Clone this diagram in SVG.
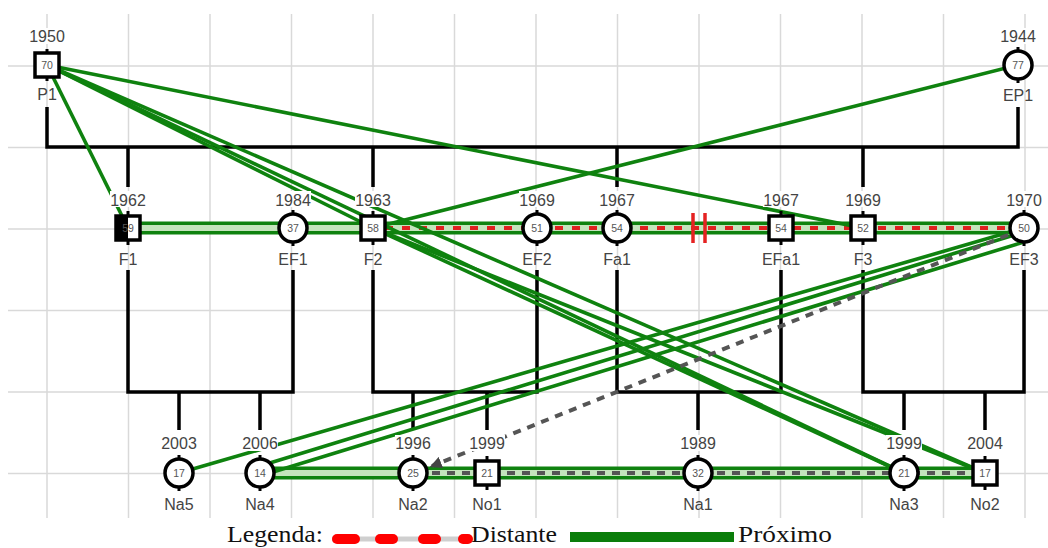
<svg xmlns="http://www.w3.org/2000/svg" width="1048" height="548" viewBox="0 0 1048 548">
  <style>
    .grid line { stroke: #d9d9d9; stroke-width: 1.5; }
    .fam { fill: none; stroke: #000; stroke-width: 3.5; stroke-linejoin: miter; }
    .close { stroke: #0f820f; stroke-width: 3.6; fill: none; }
    .band-o { stroke: #0f820f; stroke-width: 13; }
    .band-i { stroke: #c4e4bc; stroke-width: 6; }
    .far { stroke: #e02020; stroke-width: 4; stroke-dasharray: 8 9; }
    .cut { stroke: #e52222; stroke-width: 3.5; }
    .grey { stroke: #555; stroke-width: 4; stroke-dasharray: 8 7; fill: none; }
    .node rect.m, .node circle { fill: #fff; stroke: #000; stroke-width: 3.5; }
    .tick { stroke: #000; stroke-width: 3; }
    .bg { fill: #fff; }
    .yr, .nm { font-family: "Liberation Sans", Arial, sans-serif; font-size: 16px; fill: #444; text-anchor: middle; }
    .age { font-family: "Liberation Sans", Arial, sans-serif; font-size: 10.5px; fill: #555; text-anchor: middle; }
    .leg { font-family: "Liberation Serif", "Times New Roman", serif; font-size: 24px; fill: #111; }
  </style>
  <defs>
    <marker id="arrowGrey" viewBox="0 0 10 10" refX="8" refY="5" markerWidth="3" markerHeight="3" orient="auto">
      <path d="M0 0 L10 5 L0 10 Z" fill="#444"/>
    </marker>
  </defs>

  <rect width="1048" height="548" fill="#fff"/>

  <!-- background grid -->
  <g class="grid">
    <line x1="47" y1="14" x2="47" y2="518"/>
    <line x1="128.5" y1="14" x2="128.5" y2="518"/>
    <line x1="210" y1="14" x2="210" y2="518"/>
    <line x1="291.5" y1="14" x2="291.5" y2="518"/>
    <line x1="373" y1="14" x2="373" y2="518"/>
    <line x1="454.5" y1="14" x2="454.5" y2="518"/>
    <line x1="536" y1="14" x2="536" y2="518"/>
    <line x1="617.5" y1="14" x2="617.5" y2="518"/>
    <line x1="699" y1="14" x2="699" y2="518"/>
    <line x1="780.5" y1="14" x2="780.5" y2="518"/>
    <line x1="862" y1="14" x2="862" y2="518"/>
    <line x1="943.5" y1="14" x2="943.5" y2="518"/>
    <line x1="1025" y1="14" x2="1025" y2="518"/>
    <line x1="8" y1="66" x2="1048" y2="66"/>
    <line x1="8" y1="147.5" x2="1048" y2="147.5"/>
    <line x1="8" y1="229" x2="1048" y2="229"/>
    <line x1="8" y1="310.5" x2="1048" y2="310.5"/>
    <line x1="8" y1="392" x2="1048" y2="392"/>
    <line x1="8" y1="473.5" x2="1048" y2="473.5"/>
  </g>

  <g id="connectors">
    <!-- family lines: couples and children -->
    <path class="fam" d="M47 107 V147 H1018 V107"/>
    <path class="fam" d="M128 147 V187 M373 147 V187 M617 147 V187 M863 147 V187"/>
    <path class="fam" d="M128 270 V392 H293 V270 M179 392 V430 M260 392 V430"/>
    <path class="fam" d="M373 270 V392 H537 V270 M413 392 V430 M487 392 V430"/>
    <path class="fam" d="M617 270 V392 H781 V270 M698 392 V430"/>
    <path class="fam" d="M863 270 V392 H1024 V270 M904 392 V430 M985 392 V430"/>

    <!-- horizontal relationship bands -->
    <line class="band-o" x1="128" y1="228" x2="1024" y2="228"/>
    <line class="band-i" x1="128" y1="228" x2="1024" y2="228"/>
    <line class="far" x1="385" y1="228" x2="1010" y2="228"/>
    <line class="cut" x1="693" y1="213" x2="693" y2="243"/>
    <line class="cut" x1="705" y1="213" x2="705" y2="243"/>

    <line class="band-o" x1="260" y1="473" x2="985" y2="473"/>
    <line class="band-i" x1="260" y1="473" x2="985" y2="473"/>
    <line class="grey" x1="432" y1="473" x2="972" y2="473"/>

    <!-- close relationships -->
    <line class="close" x1="47" y1="65" x2="128" y2="228"/>
    <line class="close" x1="47" y1="65" x2="373" y2="228"/>
    <line class="close" x1="47" y1="65" x2="863" y2="228"/>
    <line class="close" x1="47" y1="65" x2="904" y2="473"/>
    <line class="close" x1="47" y1="65" x2="985" y2="473"/>
    <line class="close" x1="373" y1="228" x2="904" y2="473"/>
    <line class="close" x1="373" y1="228" x2="985" y2="473"/>
    <line class="close" x1="373" y1="228" x2="1018" y2="65"/>
    <line class="close" x1="179" y1="473" x2="1024" y2="228"/>
    <line class="close" x1="260" y1="466" x2="1024" y2="232"/>
    <line class="close" x1="260" y1="476" x2="1024" y2="242"/>

    <!-- dashed link with arrow -->
    <line class="grey" x1="1008" y1="235" x2="432" y2="466" stroke-dasharray="11 9" marker-end="url(#arrowGrey)"/>
  </g>

  <!-- generation 1 -->
  <g id="P1" class="node">
    <line class="tick" x1="47" y1="49" x2="47" y2="81"/>
    <rect class="m" x="35" y="53" width="24" height="24"/>
    <text class="age" x="47" y="69">70</text>
    <rect class="bg" x="29" y="28" width="36" height="16"/>
    <text class="yr" x="47" y="42">1950</text>
    <text class="nm" x="47" y="100">P1</text>
  </g>
  <g id="EP1" class="node">
    <line class="tick" x1="1018" y1="47" x2="1018" y2="83"/>
    <circle cx="1018" cy="65" r="14"/>
    <text class="age" x="1018" y="69">77</text>
    <rect class="bg" x="1000" y="28" width="36" height="16"/>
    <text class="yr" x="1018" y="42">1944</text>
    <text class="nm" x="1018" y="101">EP1</text>
  </g>

  <!-- generation 2 -->
  <g id="F1" class="node">
    <line class="tick" x1="128" y1="211" x2="128" y2="245"/>
    <rect class="m" x="116" y="216" width="24" height="24"/>
    <rect x="116" y="216" width="12" height="24" fill="#000"/>
    <text class="age" x="128" y="232">59</text>
    <rect class="bg" x="110" y="191" width="36" height="16"/>
    <text class="yr" x="128" y="206">1962</text>
    <text class="nm" x="128" y="265">F1</text>
  </g>
  <g id="EF1" class="node">
    <line class="tick" x1="293" y1="210" x2="293" y2="246"/>
    <circle cx="293" cy="228" r="14"/>
    <text class="age" x="293" y="232">37</text>
    <rect class="bg" x="275" y="191" width="36" height="16"/>
    <text class="yr" x="293" y="206">1984</text>
    <text class="nm" x="293" y="265">EF1</text>
  </g>
  <g id="F2" class="node">
    <line class="tick" x1="373" y1="211" x2="373" y2="245"/>
    <rect class="m" x="361" y="216" width="24" height="24"/>
    <text class="age" x="373" y="232">58</text>
    <rect class="bg" x="355" y="191" width="36" height="16"/>
    <text class="yr" x="373" y="206">1963</text>
    <text class="nm" x="373" y="265">F2</text>
  </g>
  <g id="EF2" class="node">
    <line class="tick" x1="537" y1="210" x2="537" y2="246"/>
    <circle cx="537" cy="228" r="14"/>
    <text class="age" x="537" y="232">51</text>
    <rect class="bg" x="519" y="191" width="36" height="16"/>
    <text class="yr" x="537" y="206">1969</text>
    <text class="nm" x="537" y="265">EF2</text>
  </g>
  <g id="Fa1" class="node">
    <line class="tick" x1="617" y1="210" x2="617" y2="246"/>
    <circle cx="617" cy="228" r="14"/>
    <text class="age" x="617" y="232">54</text>
    <rect class="bg" x="599" y="191" width="36" height="16"/>
    <text class="yr" x="617" y="206">1967</text>
    <text class="nm" x="617" y="265">Fa1</text>
  </g>
  <g id="EFa1" class="node">
    <line class="tick" x1="781" y1="211" x2="781" y2="245"/>
    <rect class="m" x="769" y="216" width="24" height="24"/>
    <text class="age" x="781" y="232">54</text>
    <rect class="bg" x="763" y="191" width="36" height="16"/>
    <text class="yr" x="781" y="206">1967</text>
    <text class="nm" x="781" y="265">EFa1</text>
  </g>
  <g id="F3" class="node">
    <line class="tick" x1="863" y1="211" x2="863" y2="245"/>
    <rect class="m" x="851" y="216" width="24" height="24"/>
    <text class="age" x="863" y="232">52</text>
    <rect class="bg" x="845" y="191" width="36" height="16"/>
    <text class="yr" x="863" y="206">1969</text>
    <text class="nm" x="863" y="265">F3</text>
  </g>
  <g id="EF3" class="node">
    <line class="tick" x1="1024" y1="210" x2="1024" y2="246"/>
    <circle cx="1024" cy="228" r="14"/>
    <text class="age" x="1024" y="232">50</text>
    <rect class="bg" x="1006" y="191" width="36" height="16"/>
    <text class="yr" x="1024" y="206">1970</text>
    <text class="nm" x="1024" y="265">EF3</text>
  </g>

  <!-- generation 3 -->
  <g id="Na5" class="node">
    <line class="tick" x1="179" y1="455" x2="179" y2="491"/>
    <circle cx="179" cy="473" r="14"/>
    <text class="age" x="179" y="477">17</text>
    <rect class="bg" x="161" y="435" width="36" height="16"/>
    <text class="yr" x="179" y="449">2003</text>
    <text class="nm" x="179" y="510">Na5</text>
  </g>
  <g id="Na4" class="node">
    <line class="tick" x1="260" y1="455" x2="260" y2="491"/>
    <circle cx="260" cy="473" r="14"/>
    <text class="age" x="260" y="477">14</text>
    <rect class="bg" x="242" y="435" width="36" height="16"/>
    <text class="yr" x="260" y="449">2006</text>
    <text class="nm" x="260" y="510">Na4</text>
  </g>
  <g id="Na2" class="node">
    <line class="tick" x1="413" y1="455" x2="413" y2="491"/>
    <circle cx="413" cy="473" r="14"/>
    <text class="age" x="413" y="477">25</text>
    <rect class="bg" x="395" y="435" width="36" height="16"/>
    <text class="yr" x="413" y="449">1996</text>
    <text class="nm" x="413" y="510">Na2</text>
  </g>
  <g id="No1" class="node">
    <line class="tick" x1="487" y1="456" x2="487" y2="490"/>
    <rect class="m" x="475" y="461" width="24" height="24"/>
    <text class="age" x="487" y="477">21</text>
    <rect class="bg" x="469" y="435" width="36" height="16"/>
    <text class="yr" x="487" y="449">1999</text>
    <text class="nm" x="487" y="510">No1</text>
  </g>
  <g id="Na1" class="node">
    <line class="tick" x1="698" y1="455" x2="698" y2="491"/>
    <circle cx="698" cy="473" r="14"/>
    <text class="age" x="698" y="477">32</text>
    <rect class="bg" x="680" y="435" width="36" height="16"/>
    <text class="yr" x="698" y="449">1989</text>
    <text class="nm" x="698" y="510">Na1</text>
  </g>
  <g id="Na3" class="node">
    <line class="tick" x1="904" y1="455" x2="904" y2="491"/>
    <circle cx="904" cy="473" r="14"/>
    <text class="age" x="904" y="477">21</text>
    <rect class="bg" x="886" y="435" width="36" height="16"/>
    <text class="yr" x="904" y="449">1999</text>
    <text class="nm" x="904" y="510">Na3</text>
  </g>
  <g id="No2" class="node">
    <line class="tick" x1="985" y1="456" x2="985" y2="490"/>
    <rect class="m" x="973" y="461" width="24" height="24"/>
    <text class="age" x="985" y="477">17</text>
    <rect class="bg" x="967" y="435" width="36" height="16"/>
    <text class="yr" x="985" y="449">2004</text>
    <text class="nm" x="985" y="510">No2</text>
  </g>

  <!-- legend -->
  <g id="legend">
    <text class="leg" x="227" y="542" textLength="96" lengthAdjust="spacingAndGlyphs">Legenda:</text>
    <line x1="332" y1="539" x2="470" y2="539" stroke="#cfcfcf" stroke-width="5"/>
    <g stroke="#ff0000" stroke-width="10" stroke-linecap="round">
      <line x1="337" y1="539" x2="355" y2="539"/>
      <line x1="380" y1="539" x2="393" y2="539"/>
      <line x1="423" y1="539" x2="436" y2="539"/>
      <line x1="463" y1="539" x2="468" y2="539"/>
    </g>
    <text class="leg" x="471" y="542" textLength="86" lengthAdjust="spacingAndGlyphs">Distante</text>
    <rect x="570" y="532" width="164" height="10" fill="#0a7d0a"/>
    <text class="leg" x="738" y="542" textLength="94" lengthAdjust="spacingAndGlyphs">Próximo</text>
  </g>
</svg>
